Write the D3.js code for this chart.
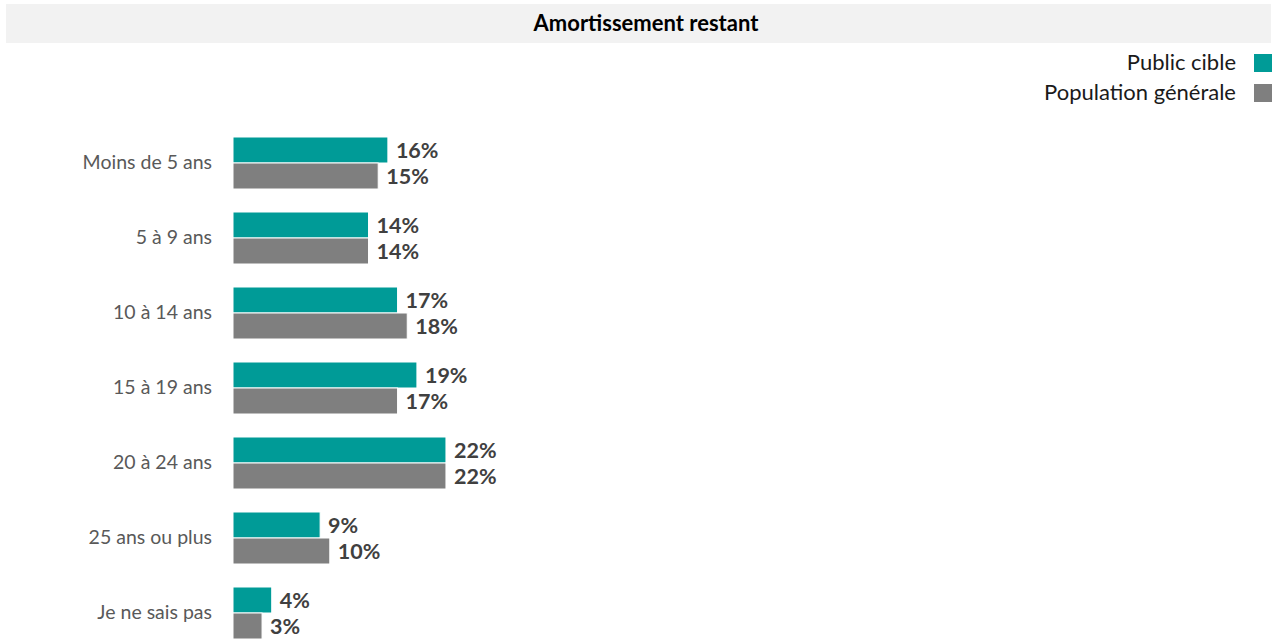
<!DOCTYPE html>
<html><head><meta charset="utf-8">
<script src="https://cdn.jsdelivr.net/npm/d3@7"></script>
<style>body{margin:0;background:#fff;} svg{display:block;font-family:Lato,"Open Sans",sans-serif;}</style>
</head><body>
<svg id="c" width="1277" height="640"></svg>
<script>
const title = "Amortissement restant";
const categories = ["Moins de 5 ans","5 à 9 ans","10 à 14 ans","15 à 19 ans","20 à 24 ans","25 ans ou plus","Je ne sais pas"];
const seriesNames = ["Public cible","Population générale"];
const publicCible = [16,14,17,19,22,9,4];
const populationGenerale = [15,14,18,17,22,10,3];
const colors = ["#009b97","#7f7f7f"];

const svg = d3.select("#c");
// title band
svg.append("rect").attr("x",6).attr("y",4).attr("width",1265).attr("height",39).attr("fill","#f2f2f2");
svg.append("text").attr("x",646).attr("y",31).attr("text-anchor","middle")
  .attr("font-size",22).attr("font-weight","bold").attr("fill","#000").text(title);

// legend
seriesNames.forEach((s,i)=>{
  const yy = 54 + i*30;
  svg.append("rect").attr("x",1254).attr("y",yy).attr("width",18).attr("height",18).attr("fill",colors[i]);
  svg.append("text").attr("x",1236).attr("y",yy+16).attr("text-anchor","end")
    .attr("font-size",22).attr("fill","#1a1a1a").text(s);
});

const x = d3.scaleLinear().domain([0,100]).range([233, 233+968]);
const y = d3.scaleBand().domain(categories).range([137,639]).paddingInner(23/75).paddingOuter(0);
const ys = d3.scaleBand().domain(seriesNames).range([0, y.bandwidth()]);

const data = categories.map((c,i)=>({cat:c, vals:[publicCible[i], populationGenerale[i]]}));

const g = svg.append("g");
const grp = g.selectAll("g.grp").data(data).join("g").attr("class","grp")
  .attr("transform", d=>`translate(0,${y(d.cat)})`);

grp.selectAll("rect").data(d=>d.vals.map((v,i)=>({v, s:seriesNames[i], i})))
  .join("rect")
  .attr("x", x(0)).attr("y", d=>ys(d.s)).attr("width", d=>x(d.v)-x(0)).attr("height", ys.bandwidth())
  .attr("fill", d=>colors[d.i]).attr("stroke","#fff").attr("stroke-width",1);

grp.selectAll("text.val").data(d=>d.vals.map((v,i)=>({v, s:seriesNames[i], i})))
  .join("text").attr("class","val")
  .attr("x", d=>x(d.v)+8).attr("y", d=>ys(d.s)+ys.bandwidth()/2+7.5)
  .attr("font-size",21.5).attr("font-weight","bold").attr("fill","#404040")
  .text(d=>d.v+"%");

// category axis labels
const yAxis = d3.axisLeft(y).tickSize(0).tickPadding(0);
const ax = svg.append("g").attr("transform","translate(212,0)").call(yAxis);
ax.select(".domain").remove();
ax.selectAll("text").attr("font-size",19.5).attr("fill","#595959").attr("font-family","Lato,'Open Sans',sans-serif");
</script>
</body></html>
